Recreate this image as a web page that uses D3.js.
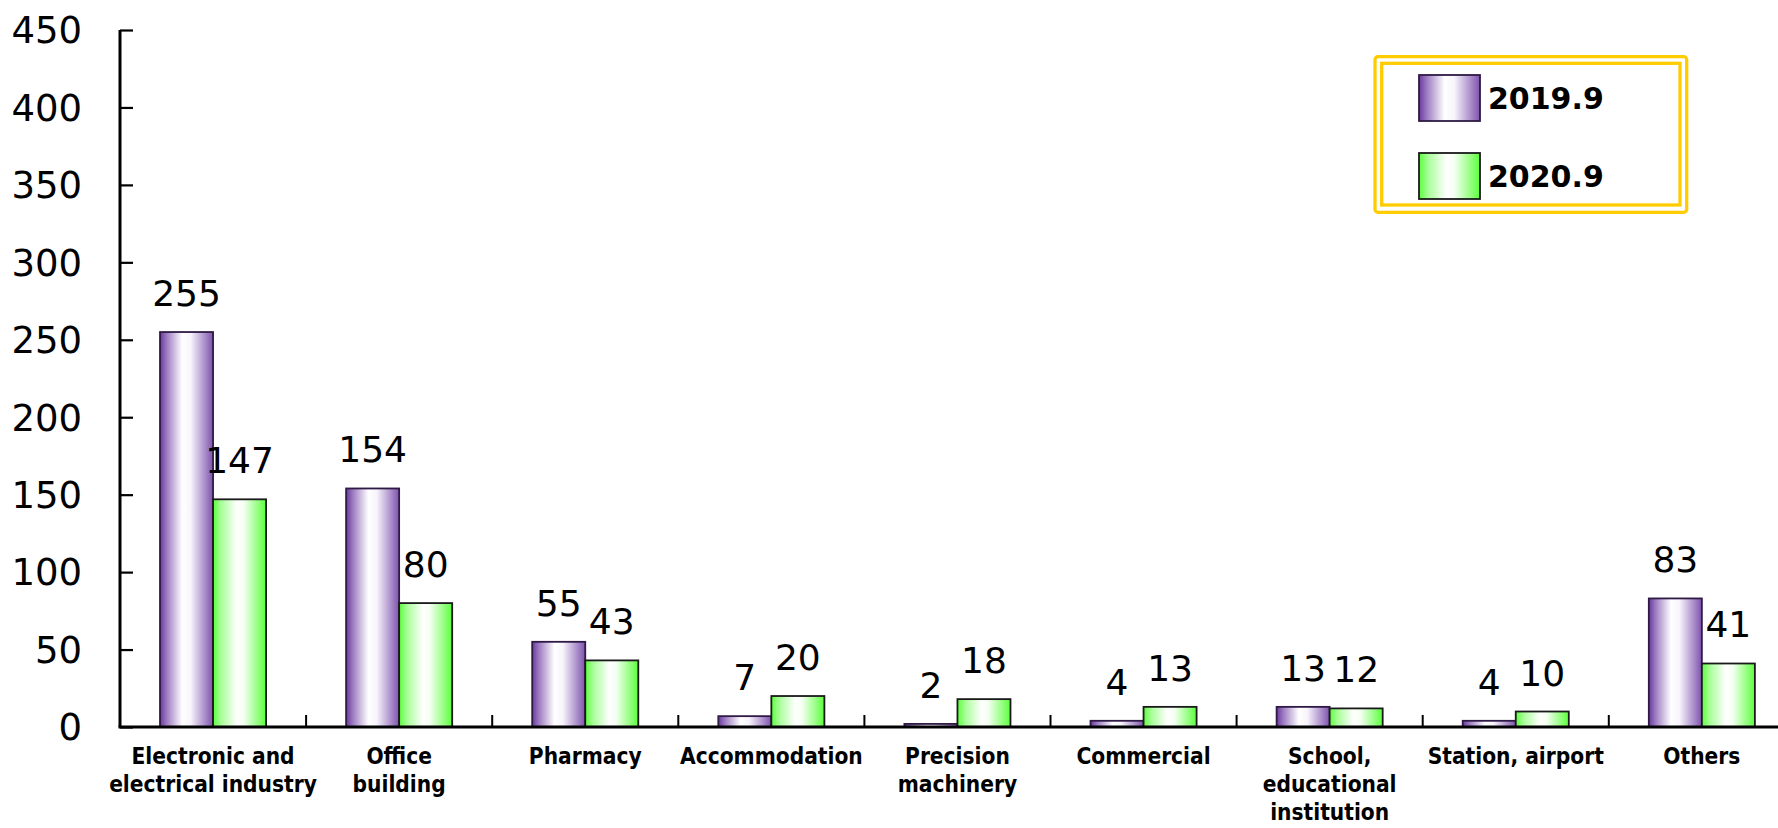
<!DOCTYPE html>
<html>
<head>
<meta charset="utf-8">
<script src="https://cdn.jsdelivr.net/npm/d3@7"></script>
<style>
  html, body { margin: 0; padding: 0; background: #fff; }
  svg { display: block; font-family: "DejaVu Sans", Verdana, sans-serif; }
  .xlabel { font-family: "DejaVu Sans Condensed", "DejaVu Sans", sans-serif; font-stretch: condensed; }
</style>
</head>
<body>
<div id="chart"></div>
<script>
// categories (line breaks as in the original axis labels)
const CATEGORIES = [
  "Electronic and\nelectrical industry",
  "Office\nbuilding",
  "Pharmacy",
  "Accommodation",
  "Precision\nmachinery",
  "Commercial",
  "School,\neducational\ninstitution",
  "Station, airport",
  "Others"
];
const SERIES = ["2019.9", "2020.9"];
const VALUES_2019 = [255, 154, 55, 7, 2, 4, 13, 4, 83];
const VALUES_2020 = [147, 80, 43, 20, 18, 13, 12, 10, 41];
const Y_TICKS = [0, 50, 100, 150, 200, 250, 300, 350, 400, 450];

var width = 1778,
    height = 828;

var svg = d3.select("#chart").append("svg")
  .attr("width", width)
  .attr("height", height)
  .attr("viewBox", [0, 0, width, height]);

// plot area (right side runs past the window edge, like the original)
const left = 120, bandW = 186.1;
const x0 = d3.scaleBand()
  .domain(CATEGORIES)
  .range([left, left + bandW * CATEGORIES.length])
  .padding(0);
const x1 = d3.scaleBand()
  .domain(SERIES)
  .range([x0.bandwidth() * 0.215, x0.bandwidth() * 0.785]);
const y = d3.scaleLinear()
  .domain([0, 450])
  .range([727, 30]);

// gradients
var defs = svg.append("defs");
function addGrad(id, stops) {
  var g = defs.append("linearGradient").attr("id", id)
    .attr("x1", "0%").attr("x2", "100%").attr("y1", "0%").attr("y2", "0%");
  stops.forEach(s => g.append("stop").attr("offset", s[0]).attr("stop-color", s[1]));
}
addGrad("grad2019", [["0%", "#6a3a9c"], ["12%", "#9a78c0"], ["42%", "#ffffff"], ["58%", "#f7f4fb"], ["100%", "#7e52ae"]]);
addGrad("grad2020", [["0%", "#5cff3c"], ["15%", "#a8ff98"], ["45%", "#ffffff"], ["58%", "#f4fff2"], ["100%", "#5cff3c"]]);
const fills = {"2019.9": "url(#grad2019)", "2020.9": "url(#grad2020)"};
const strokes = {"2019.9": "#2e1a44", "2020.9": "#1a1a1a"};

// data rows
var rows = CATEGORIES.map((c, i) => ({
  cat: c,
  vals: [{s: SERIES[0], v: VALUES_2019[i]}, {s: SERIES[1], v: VALUES_2020[i]}]
}));

// bars
var groups = svg.append("g")
  .selectAll("g")
  .data(rows)
  .join("g")
    .attr("transform", d => "translate(" + x0(d.cat) + ",0)");

groups.selectAll("rect")
  .data(d => d.vals)
  .join("rect")
    .attr("x", d => x1(d.s))
    .attr("y", d => y(d.v))
    .attr("width", x1.bandwidth())
    .attr("height", d => y(0) - y(d.v))
    .attr("fill", d => fills[d.s])
    .attr("stroke", d => strokes[d.s])
    .attr("stroke-width", 1.8);

// value labels
groups.selectAll("text")
  .data(d => d.vals)
  .join("text")
    .attr("x", d => x1(d.s) + x1.bandwidth() / 2)
    .attr("y", d => y(d.v) - 26)
    .attr("text-anchor", "middle")
    .attr("font-size", 36)
    .attr("fill", "#000")
    .text(d => d.v);

// y axis
var yAxis = svg.append("g")
  .attr("transform", "translate(" + left + ",0)")
  .call(d3.axisRight(y).tickValues(Y_TICKS).tickSize(13).tickFormat(""));
yAxis.select(".domain").attr("stroke", "#000").attr("stroke-width", 3)
  .attr("d", "M0," + y(450) + "V" + y(0));
yAxis.selectAll(".tick line").attr("stroke", "#000").attr("stroke-width", 2.2);

svg.append("g")
  .selectAll("text")
  .data(Y_TICKS)
  .join("text")
    .attr("x", 82)
    .attr("y", d => y(d))
    .attr("dy", "0.36em")
    .attr("text-anchor", "end")
    .attr("font-size", 37)
    .text(d => d);

// x axis
svg.append("line")
  .attr("x1", left - 1.5).attr("x2", width)
  .attr("y1", y(0)).attr("y2", y(0))
  .attr("stroke", "#000").attr("stroke-width", 3);

svg.append("g")
  .selectAll("line")
  .data(CATEGORIES.slice(1))
  .join("line")
    .attr("x1", d => x0(d)).attr("x2", d => x0(d))
    .attr("y1", y(0)).attr("y2", y(0) - 12)
    .attr("stroke", "#000").attr("stroke-width", 2);

var xl = svg.append("g")
  .selectAll("text")
  .data(CATEGORIES)
  .join("text")
    .attr("class", "xlabel")
    .attr("x", d => x0(d) + x0.bandwidth() / 2)
    .attr("y", 764)
    .attr("text-anchor", "middle")
    .attr("font-size", 22.5)
    .attr("font-weight", "bold");
xl.selectAll("tspan")
  .data(d => d.split("\n").map(t => ({t: t, x: x0(d) + x0.bandwidth() / 2})))
  .join("tspan")
    .attr("x", d => d.x)
    .attr("dy", (d, i) => i === 0 ? 0 : 28)
    .text(d => d.t);

// legend
var lg = svg.append("g");
lg.append("rect")
  .attr("x", 1375).attr("y", 56.7).attr("width", 311.7).attr("height", 155.6)
  .attr("rx", 3).attr("fill", "#fff").attr("stroke", "#ffcc00").attr("stroke-width", 3.3);
lg.append("rect")
  .attr("x", 1381.7).attr("y", 63.3).attr("width", 298.3).attr("height", 141.7)
  .attr("fill", "none").attr("stroke", "#ffcc00").attr("stroke-width", 3.3);

var li = lg.selectAll("g.item")
  .data(SERIES)
  .join("g")
    .attr("class", "item")
    .attr("transform", (d, i) => "translate(1419," + (75 + i * 78) + ")");
li.append("rect")
  .attr("width", 61).attr("height", 46)
  .attr("fill", d => fills[d])
  .attr("stroke", d => strokes[d])
  .attr("stroke-width", 1.8);
li.append("text")
  .attr("x", 69).attr("y", 23)
  .attr("dy", "0.36em")
  .attr("font-size", 30)
  .attr("font-weight", "bold")
  .text(d => d);
</script>
</body>
</html>
